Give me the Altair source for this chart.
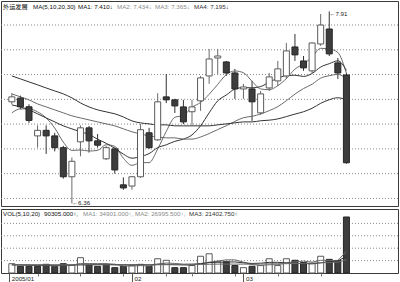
import altair as alt
import pandas as pd

# ---------------- data ----------------
opens = [7.18, 7.21, 7.14, 6.905, 6.95, 6.905, 6.81, 6.575, 6.857, 6.97,
         6.865, 6.72, 6.80, 6.51, 6.50, 6.575, 6.93, 6.873, 7.22, 7.196,
         7.139, 7.10, 7.188, 7.389, 7.534, 7.502, 7.413, 7.284, 7.284, 7.091,
         7.292, 7.349, 7.389, 7.623, 7.51, 7.43, 7.647, 7.768, 7.494, 7.397]
highs = [7.25, 7.23, 7.16, 6.99, 6.99, 6.93, 6.825, 6.73, 6.99, 6.985,
         6.92, 6.825, 6.81, 6.57, 6.58, 7.00, 6.97, 7.25, 7.405, 7.204,
         7.196, 7.196, 7.389, 7.607, 7.607, 7.51, 7.446, 7.325, 7.349, 7.268,
         7.413, 7.51, 7.655, 7.728, 7.55, 7.66, 7.889, 7.91, 7.534, 7.413]
lows = [7.16, 7.12, 7.01, 6.81, 6.76, 6.78, 6.56, 6.36, 6.74, 6.77,
        6.81, 6.71, 6.60, 6.47, 6.47, 6.567, 6.80, 6.865, 7.17, 7.09,
        7.00, 6.994, 7.107, 7.325, 7.405, 7.389, 7.204, 7.204, 7.026, 7.075,
        7.268, 7.308, 7.365, 7.51, 7.43, 7.413, 7.631, 7.55, 7.365, 6.68]
closes = [7.22, 7.14, 7.03, 6.95, 6.905, 6.81, 6.575, 6.70, 6.97, 6.865,
          6.83, 6.81, 6.63, 6.485, 6.575, 6.955, 6.81, 7.18, 7.196, 7.147,
          7.018, 7.139, 7.373, 7.526, 7.55, 7.413, 7.284, 7.30, 7.18, 7.244,
          7.381, 7.446, 7.591, 7.559, 7.454, 7.655, 7.80, 7.567, 7.413, 6.688]

ma5 = [7.091, 7.123, 7.123, 7.099, 7.050, 6.968, 6.855, 6.788, 6.791, 6.783,
       6.788, 6.834, 6.821, 6.725, 6.667, 6.689, 6.689, 6.799, 6.941, 7.055,
       7.070, 7.136, 7.175, 7.241, 7.321, 7.400, 7.429, 7.415, 7.346, 7.284,
       7.278, 7.310, 7.368, 7.444, 7.486, 7.541, 7.612, 7.607, 7.578, 7.410]
ma10 = [7.155, 7.139, 7.115, 7.083, 7.050, 7.018, 6.986, 6.962, 6.938, 6.917,
        6.878, 6.845, 6.805, 6.758, 6.725, 6.738, 6.762, 6.810, 6.833, 6.861,
        6.879, 6.913, 6.987, 7.091, 7.188, 7.235, 7.283, 7.295, 7.293, 7.303,
        7.339, 7.370, 7.392, 7.395, 7.385, 7.409, 7.461, 7.488, 7.511, 7.434]
ma20 = [7.244, 7.220, 7.196, 7.163, 7.139, 7.115, 7.091, 7.067, 7.050, 7.034,
        7.018, 7.002, 6.986, 6.962, 6.938, 6.921, 6.905, 6.897, 6.889, 6.889,
        6.879, 6.879, 6.896, 6.924, 6.956, 6.987, 7.022, 7.052, 7.063, 7.082,
        7.109, 7.141, 7.189, 7.242, 7.287, 7.322, 7.371, 7.391, 7.402, 7.365]
ma30 = [7.389, 7.365, 7.341, 7.317, 7.292, 7.268, 7.244, 7.212, 7.171, 7.139,
        7.115, 7.099, 7.083, 7.058, 7.026, 7.010, 7.002, 6.994, 6.994, 6.986,
        6.986, 6.986, 6.986, 6.986, 6.994, 7.002, 7.010, 7.018, 7.018, 7.027,
        7.032, 7.042, 7.061, 7.081, 7.100, 7.128, 7.168, 7.197, 7.213, 7.195]

volumes = [15000, 10800, 10800, 10800, 14000, 10800, 15000, 12400, 24700, 13000,
           10800, 14000, 8600, 10800, 12000, 14000, 10800, 23000, 20500, 8600,
           8600, 12000, 27000, 31000, 18000, 18000, 12000, 8600, 10800, 12000,
           23000, 12000, 23000, 20500, 16950, 15000, 27000, 22000, 20200, 90305]
vol_up = [1, 0, 0, 0, 0, 0, 0, 1, 1, 0,
          0, 0, 0, 0, 1, 1, 0, 1, 1, 0,
          0, 1, 1, 1, 1, 0, 0, 1, 0, 1,
          1, 1, 1, 0, 0, 1, 1, 0, 0, 0]
vol_ma5 = [13500, 13000, 12500, 12000, 12300, 11400, 12300, 12600, 15400, 15200,
           15200, 15000, 14200, 11400, 11200, 11900, 11200, 14100, 16100, 15400,
           14300, 14500, 15300, 17400, 19300, 21200, 21200, 17500, 13500, 12300,
           13300, 13300, 16200, 18100, 19100, 17500, 20500, 20300, 20200, 34901]
vol_ma10 = [13000, 13000, 12900, 12800, 12800, 12700, 12700, 12800, 13300, 13200,
            13700, 14000, 13400, 13400, 13200, 13600, 13200, 14300, 13900, 13400,
            13200, 13000, 14800, 16800, 17400, 17800, 17800, 16400, 15400, 15800,
            17200, 17200, 16300, 15300, 15200, 14900, 16400, 18300, 19200, 26995.5]
vol_ma20 = [13500, 13400, 13300, 13300, 13200, 13200, 13100, 13100, 13200, 13200,
            13200, 13200, 13100, 13100, 13100, 13100, 13100, 13300, 13400, 13400,
            13400, 13400, 13700, 14100, 14300, 14400, 14300, 14300, 14200, 14500,
            14800, 14900, 15000, 15300, 15600, 16000, 16500, 16900, 17500, 21402.75]

price_grid = [6.4, 6.6, 6.8, 7.0, 7.2, 7.4, 7.6, 7.8]
vol_grid = [20000, 40000, 60000, 80000]
month_ticks = [-0.3, 14, 27]
month_labels = ["2005/01", "02", "03"]
week_ticks = [3, 8, 13, 18, 21, 26, 31, 36]

# ---------------- frames ----------------
n = len(closes)
candles = pd.DataFrame({
    "i": list(range(n)), "open": opens, "high": highs, "low": lows, "close": closes,
})
candles["dir"] = ["up" if c >= o else "down" for o, c in zip(opens, closes)]

ma_df = pd.DataFrame({"i": list(range(n)), "MA5": ma5, "MA10": ma10, "MA20": ma20, "MA30": ma30})
ma_long = ma_df.melt("i", var_name="ma", value_name="v")

vol_df = pd.DataFrame({"i": list(range(n)), "vol": volumes,
                       "dir": ["up" if u else "down" for u in vol_up]})
vma_df = pd.DataFrame({"i": list(range(n)), "V5": vol_ma5, "V10": vol_ma10, "V20": vol_ma20})
vma_long = vma_df.melt("i", var_name="ma", value_name="v")

pgrid_df = pd.DataFrame({"g": price_grid})
vgrid_df = pd.DataFrame({"g": vol_grid})

lo_i = lows.index(min(lows))
hi_i = highs.index(max(highs))
ann_lo = pd.DataFrame({"i": [lo_i], "p": [lows[lo_i]], "t": ["\u2190" + f"{lows[lo_i]:.2f}"]})
ann_hi = pd.DataFrame({"i": [hi_i], "p": [highs[hi_i]], "t": ["\u2190" + f"{highs[hi_i]:.2f}"]})

W = 397
H_MAIN = 205
H_VOL = 64
FONT = "Liberation Sans"
FS = 6.2

xscale = alt.Scale(domain=[-0.68, 44.43], nice=False, zero=False)
yscale = alt.Scale(domain=[6.339, 7.994], nice=False, zero=False)
vscale = alt.Scale(domain=[0, 103200], nice=False)

dir_fill = alt.Scale(domain=["up", "down"], range=["#ffffff", "#3d3d3d"])
dir_stroke = alt.Scale(domain=["up", "down"], range=["#5a5a5a", "#262626"])
dir_wick = alt.Scale(domain=["up", "down"], range=["#6a6a6a", "#333333"])

X = alt.X("i:Q", scale=xscale, axis=None)

pgrid = alt.Chart(pgrid_df).mark_rule(strokeWidth=1, strokeDash=[1, 2], color="#8a8a8a").encode(
    y=alt.Y("g:Q", scale=yscale, axis=None))

base = alt.Chart(candles)

wicks = base.mark_rule(strokeWidth=1).encode(
    x=X,
    y=alt.Y("low:Q", scale=yscale, axis=None),
    y2="high:Q",
    color=alt.Color("dir:N", scale=dir_wick, legend=None),
)
bodies = base.mark_bar(size=6, strokeWidth=1).encode(
    x=X,
    y=alt.Y("open:Q", scale=yscale, axis=None),
    y2="close:Q",
    fill=alt.Fill("dir:N", scale=dir_fill, legend=None),
    stroke=alt.Stroke("dir:N", scale=dir_stroke, legend=None),
)
ma_lines = alt.Chart(ma_long).mark_line(strokeWidth=1, interpolate="monotone").encode(
    x=X,
    y=alt.Y("v:Q", scale=yscale, axis=None),
    color=alt.Color("ma:N", scale=alt.Scale(domain=["MA5", "MA10", "MA20", "MA30"],
                                             range=["#1e1e1e", "#8a8a8a", "#9c9c9c", "#4a4a4a"]),
                    legend=None),
    detail="ma:N",
)
lo_text = alt.Chart(ann_lo).mark_text(align="left", baseline="middle", dx=0, dy=0,
                                      fontSize=FS, font=FONT, color="#222").encode(
    x=X, y=alt.Y("p:Q", scale=yscale, axis=None), text="t:N")
hi_text = alt.Chart(ann_hi).mark_text(align="left", baseline="middle", dx=0, dy=3,
                                      fontSize=FS, font=FONT, color="#222").encode(
    x=X, y=alt.Y("p:Q", scale=yscale, axis=None), text="t:N")

one = pd.DataFrame({"a": [0]})


def label(txt, px, py, color="#111", font=FONT, size=FS):
    return alt.Chart(one).mark_text(align="left", baseline="middle", fontSize=size,
                                    font=font, color=color).encode(
        x=alt.value(px), y=alt.value(py), text=alt.value(txt))


hdr = [
    label("外运发展", 2, 6, "#111", "Noto Sans CJK SC", 6.2),
    label("MA(5,10,20,30)", 32, 6, "#111"),
    label("MA1: 7.410\u2193", 77, 6, "#111"),
    label("MA2: 7.434\u2193", 116, 6, "#8a8a8a"),
    label("MA3: 7.365\u2193", 154, 6, "#8a8a8a"),
    label("MA4: 7.195\u2193", 193, 6, "#333"),
]

main = alt.layer(pgrid, wicks, ma_lines, bodies, lo_text, hi_text, *hdr).properties(
    width=W, height=H_MAIN)

# ---------------- volume panel ----------------
label_expr = " : ".join(
    [f"datum.value == {v} ? '{t}'" for v, t in zip(month_ticks, month_labels)] + ["''"])

vgrid = alt.Chart(vgrid_df).mark_rule(strokeWidth=1, strokeDash=[1, 2], color="#8a8a8a").encode(
    y=alt.Y("g:Q", scale=vscale, axis=None))

vbars = alt.Chart(vol_df).mark_bar(size=6, strokeWidth=1).encode(
    x=alt.X("i:Q", scale=xscale,
            axis=alt.Axis(values=month_ticks, labelExpr=label_expr, orient="bottom",
                          tickSize=10, tickColor="#555", labelAlign="left", labelBaseline="top",
                          labelPadding=-8, labelOffset=2, labelFontSize=6.2, labelFont=FONT,
                          labelColor="#222", domain=False, grid=False, title=None,
                          labelOverlap=False, labelBound=False, labelFlush=False)),
    y=alt.Y("vol:Q", scale=vscale, axis=None),
    fill=alt.Fill("dir:N", scale=dir_fill, legend=None),
    stroke=alt.Stroke("dir:N", scale=dir_stroke, legend=None),
)
vlines = alt.Chart(vma_long).mark_line(strokeWidth=1).encode(
    x=alt.X("i:Q", scale=xscale,
            axis=alt.Axis(values=week_ticks, orient="bottom", tickSize=3, tickColor="#777",
                          labels=False, domain=False, grid=False, title=None)),
    y=alt.Y("v:Q", scale=vscale, axis=None),
    color=alt.Color("ma:N", scale=alt.Scale(domain=["V5", "V10", "V20"],
                                             range=["#8a8a8a", "#a8a8a8", "#3a3a3a"]),
                    legend=None),
    detail="ma:N",
)
vhdr = [
    label("VOL(5,10,20)", 2, 5, "#111"),
    label("90305.000\u2191,", 43, 5, "#111"),
    label("MA1: 34901.000\u2191,", 82, 5, "#8a8a8a"),
    label("MA2: 26995.500\u2191,", 134, 5, "#8a8a8a"),
    label("MA3: 21402.750\u2191", 188, 5, "#333"),
]

vol = alt.layer(vgrid, vbars, vlines, *vhdr).resolve_axis(x="independent").properties(
    width=W, height=H_VOL)

chart = alt.vconcat(main, vol, spacing=0).configure(
    padding=0, background="white"
).configure_view(stroke="#3a3a3a", strokeWidth=1).configure_concat(spacing=0)

chart.save("out.html", embed_options={"renderer": "svg", "actions": False})
